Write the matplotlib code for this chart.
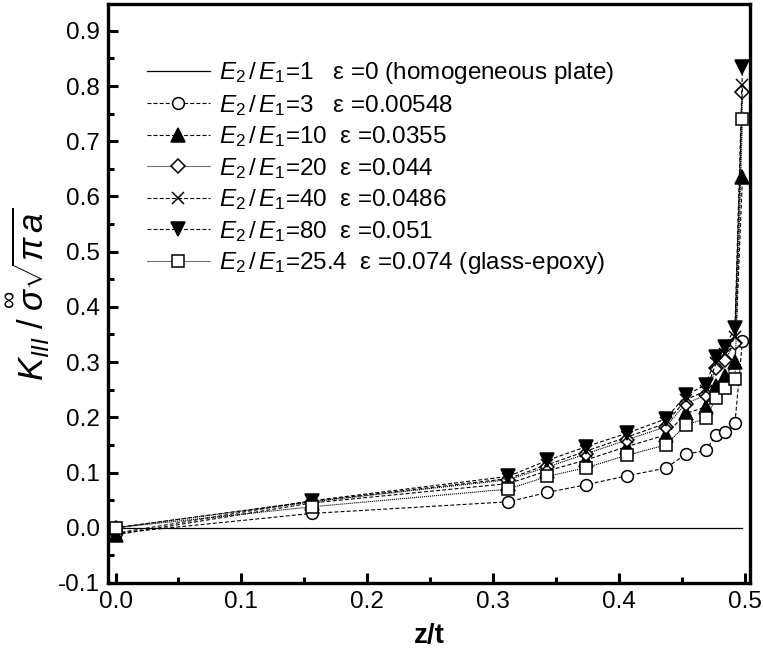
import matplotlib
matplotlib.use("Agg")
import matplotlib.pyplot as plt
from matplotlib.ticker import MultipleLocator

plt.rcParams['font.family'] = ['Liberation Sans', 'DejaVu Sans']
plt.rcParams['mathtext.fontset'] = 'custom'
plt.rcParams['mathtext.rm'] = 'Liberation Sans'
plt.rcParams['mathtext.it'] = 'Liberation Sans:italic'
plt.rcParams['mathtext.bf'] = 'Liberation Sans:bold'

# ---- data ----
z_t = [0.0, 0.156, 0.312, 0.343, 0.374, 0.406, 0.437, 0.453, 0.469, 0.477, 0.484, 0.492, 0.498]
k_homog = [0.0, 0.0]
z_homog = [0.0, 0.498]
k_r3 = [-0.010, 0.026, 0.047, 0.064, 0.078, 0.094, 0.108, 0.133, 0.140, 0.168, 0.173, 0.189, 0.339]
k_r10 = [-0.013, 0.045, 0.080, 0.103, 0.123, 0.147, 0.168, 0.207, 0.219, 0.256, 0.274, 0.300, 0.636]
k_r20 = [0.000, 0.047, 0.087, 0.110, 0.134, 0.159, 0.183, 0.225, 0.240, 0.289, 0.304, 0.334, 0.790]
k_r40 = [0.000, 0.048, 0.089, 0.114, 0.139, 0.164, 0.189, 0.232, 0.248, 0.298, 0.315, 0.345, 0.802]
k_r80 = [-0.010, 0.049, 0.093, 0.122, 0.147, 0.171, 0.197, 0.240, 0.259, 0.310, 0.328, 0.361, 0.835]
k_glass = [0.000, 0.038, 0.070, 0.093, 0.109, 0.131, 0.150, 0.186, 0.198, 0.235, 0.253, 0.270, 0.740]

E = r'$\mathit{E}_{\mathit{2}}\,/\,\mathit{E}_{\mathit{1}}$'
labels = [
    E + '=1   ε =0 (homogeneous plate)',
    E + '=3   ε =0.00548',
    E + '=10  ε =0.0355',
    E + '=20  ε =0.044',
    E + '=40  ε =0.0486',
    E + '=80  ε =0.051',
    E + '=25.4  ε =0.074 (glass-epoxy)',
]

fig = plt.figure(figsize=(7.63, 6.60), dpi=100)
ax = fig.add_axes([0.1415, 0.1167, 0.983 - 0.1415, 0.9935 - 0.1167])

lw = 0.8
ms = 8.5
mew = 1.1
ax.plot(z_homog, k_homog, '-', color='black', lw=0.9, label=labels[0])
ax.plot(z_t, k_r3, color='black', lw=lw, ls=(0, (3.5, 2)), marker='o', ms=ms,
        mfc='white', mec='black', mew=mew, label=labels[1], clip_on=False)
ax.plot(z_t, k_r10, color='black', lw=lw, ls=(0, (3.5, 2)), marker='^', ms=ms + 1,
        mfc='black', mec='black', mew=mew, label=labels[2], clip_on=False)
ax.plot(z_t, k_r20, color='black', lw=lw, ls=(0, (1, 0.8)), marker='D', ms=ms - 1.5,
        mfc='white', mec='black', mew=mew, label=labels[3], clip_on=False)
ax.plot(z_t, k_r40, color='black', lw=lw, ls=(0, (3.5, 2)), marker='x', ms=ms,
        mfc='white', mec='black', mew=mew, label=labels[4], clip_on=False)
ax.plot(z_t, k_r80, color='black', lw=lw, ls=(0, (3.5, 2)), marker='v', ms=ms + 1,
        mfc='black', mec='black', mew=mew, label=labels[5], clip_on=False)
ax.plot(z_t, k_glass, color='black', lw=lw, ls=(0, (1, 0.8)), marker='s', ms=ms - 0.5,
        mfc='white', mec='black', mew=mew, label=labels[6], clip_on=False)

ax.set_xlim(-0.006, 0.504)
ax.set_ylim(-0.1, 0.948)
ax.xaxis.set_major_locator(MultipleLocator(0.1))
ax.xaxis.set_minor_locator(MultipleLocator(0.05))
ax.yaxis.set_major_locator(MultipleLocator(0.1))
ax.yaxis.set_minor_locator(MultipleLocator(0.05))
ax.xaxis.set_major_formatter(plt.FormatStrFormatter('%.1f'))
ax.yaxis.set_major_formatter(plt.FormatStrFormatter('%.1f'))
ax.tick_params(which='both', direction='in', top=False, right=False, labelsize=17.5)
ax.tick_params(which='major', length=7, width=2.2, pad=6)
ax.tick_params(which='minor', length=4.5, width=2.2)
for s in ax.spines.values():
    s.set_linewidth(2.4)

ax.set_xlabel('z/t', fontsize=20, fontweight='bold', labelpad=7)
ax.set_ylabel(r'$K_{III}\;/\;\overset{\infty}{\sigma}\sqrt{\pi\, a}$', fontsize=25, labelpad=4)

leg = ax.legend(loc='upper left', bbox_to_anchor=(0.045, 0.92), frameon=False,
                fontsize=17.5, handlelength=2.6, handletextpad=0.4, labelspacing=0.27,
                borderaxespad=0)

fig.savefig('out.png', dpi=100)
